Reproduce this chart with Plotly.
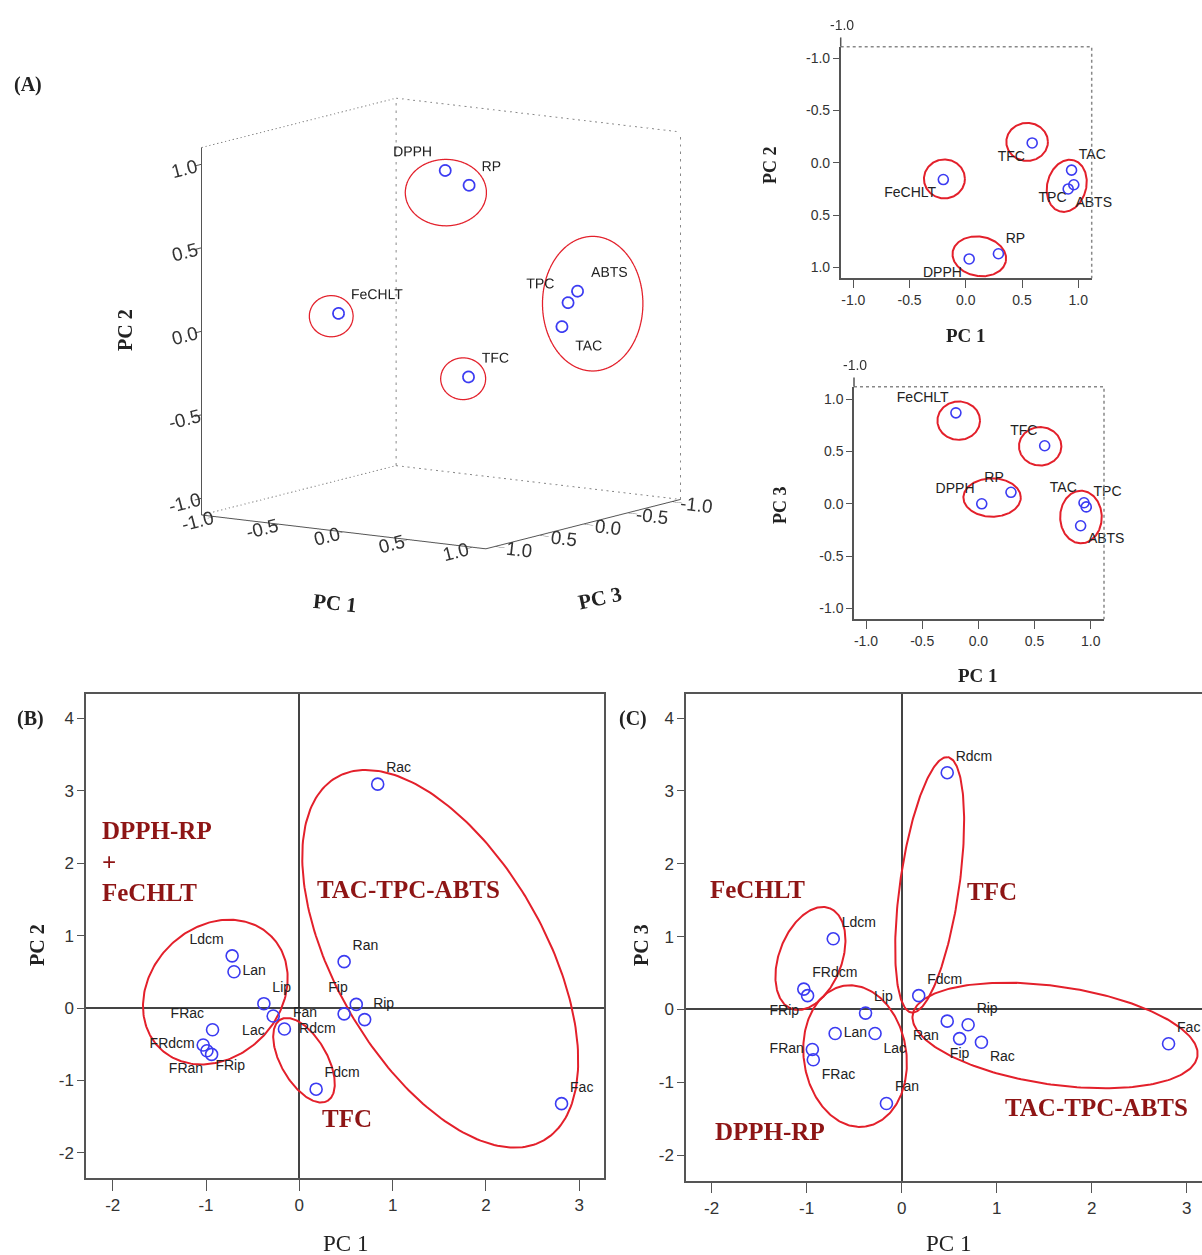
import numpy as np
import plotly.graph_objects as go

# ---------------- data ----------------
variables = ["DPPH", "RP", "FeCHLT", "TFC", "TPC", "ABTS", "TAC"]
load_pc1 = [0.03, 0.29, -0.20, 0.59, 0.96, 0.91, 0.94]
load_pc2 = [0.92, 0.87, 0.16, -0.19, 0.21, 0.25, 0.07]
load_pc3 = [0.00, 0.11, 0.87, 0.555, -0.03, -0.21, 0.01]

samples = ["Ldcm", "Lan", "Lip", "Lac", "FRdcm", "FRan", "FRip", "FRac",
           "Fdcm", "Fan", "Fip", "Fac", "Rdcm", "Ran", "Rip", "Rac"]
score_pc1 = [-0.72, -0.70, -0.38, -0.28, -1.03, -0.94, -0.99, -0.93,
             0.18, -0.16, 0.61, 2.81, 0.48, 0.48, 0.70, 0.84]
score_pc2 = [0.72, 0.50, 0.06, -0.11, -0.51, -0.64, -0.59, -0.30,
             -1.12, -0.29, 0.05, -1.32, -0.08, 0.64, -0.16, 3.09]
score_pc3 = [0.97, -0.33, -0.05, -0.33, 0.28, -0.55, 0.19, -0.69,
             0.19, -1.29, -0.40, -0.47, 3.25, -0.16, -0.21, -0.45]

loading_ticks = [-1.0, -0.5, 0.0, 0.5, 1.0]
loading_ticktext = ["-1.0", "-0.5", "0.0", "0.5", "1.0"]
score_xticks = [-2, -1, 0, 1, 2, 3]
score_xticktext = ["-2", "-1", "0", "1", "2", "3"]
score_yticks = [-2, -1, 0, 1, 2, 3, 4]
score_yticktext = ["-2", "-1", "0", "1", "2", "3", "4"]

# ---------------- styles / layout geometry ----------------
W, H = 1202, 1255
BLUE = "#3b3bf2"
RED = "#e3202b"
DARKRED = "#8e1515"
AXC = "#555555"
SANS = "Liberation Sans, Arial, sans-serif"
SERIF = "Liberation Serif, Times New Roman, serif"
LBL_FONT_SMALL = dict(family=SANS, size=14, color="#222")
LBL_FONT_BIG = dict(family=SANS, size=14, color="#222")


def px(xp, yp):
    return xp / W, 1 - yp / H


# subplot frames in pixels + axis ranges
frames = {
    "a12": dict(x0=840.7, x1=1091.7, y0=46.7, y1=278.3, xr=[-1.112, 1.119], yr=[1.105, -1.111]),
    "a13": dict(x0=854, x1=1104, y0=386.7, y1=619.3, xr=[-1.107, 1.118], yr=[-1.105, 1.12]),
    "b": dict(x0=86.1, x1=604, y0=694.3, y1=1178.3, xr=[-2.285, 3.265], yr=[-2.35, 4.33]),
    "c": dict(x0=686, x1=1202, y0=694, y1=1180.7, xr=[-2.27, 3.162], yr=[-2.35, 4.33]),
}
axis_ids = {"a12": ("x", "y"), "a13": ("x2", "y2"), "b": ("x3", "y3"), "c": ("x4", "y4")}


def ellipse_xy(key, cx, cy, A, B, ang):
    f = frames[key]
    kx = (f["x1"] - f["x0"]) / (f["xr"][1] - f["xr"][0])
    ky = (f["y1"] - f["y0"]) / (f["yr"][1] - f["yr"][0])  # negative if reversed
    t = np.linspace(0, 2 * np.pi, 240)
    p = np.radians(ang)
    ex = A * np.cos(t) * np.cos(p) - B * np.sin(t) * np.sin(p)
    ey = A * np.cos(t) * np.sin(p) + B * np.sin(t) * np.cos(p)
    return cx + ex / kx, cy + ey / ky


# group ellipses: (center x, center y in data units, semi-axes px, angle deg)
ellipses = {
    "a12": [(0.545, -0.20, 20.8, 19.0, 0), (-0.19, 0.154, 20.5, 19.5, 0),
            (0.897, 0.22, 26.5, 19.5, 75), (0.12, 0.895, 27.0, 19.7, -10)],
    "a13": [(-0.175, 0.795, 21.3, 19.2, 0), (0.55, 0.55, 21.2, 19.2, 0),
            (0.122, 0.06, 28.7, 19.2, 0), (0.913, -0.127, 26.3, 20.8, 90)],
    "b": [(-0.90, 0.22, 79, 65, 45), (0.05, -0.72, 47, 23, -60), (1.51, 0.68, 209, 105, -60.3)],
    "c": [(-0.96, 0.70, 53.8, 31.4, 69.2), (0.295, 1.71, 129, 29.6, 81.9),
          (-0.49, -0.64, 71.2, 51.3, -81.5), (1.615, -0.357, 143.9, 49.1, -8.25)],
}

pos_a12 = {"DPPH": "bottom left", "RP": "top right", "FeCHLT": "bottom left", "TFC": "bottom left",
           "TPC": "bottom left", "ABTS": "bottom right", "TAC": "top right"}
pos_a13 = {"DPPH": "top left", "RP": "top left", "FeCHLT": "top left", "TFC": "top left",
           "TPC": "top right", "ABTS": "bottom right", "TAC": "top left"}
pos_3d = {"DPPH": "top left", "RP": "top right", "FeCHLT": "top right", "TFC": "top right",
          "TPC": "top left", "ABTS": "top right", "TAC": "bottom right"}
pos_b = {"Ldcm": "top left", "Lan": "middle right", "Lip": "top right", "Lac": "bottom left",
         "FRdcm": "middle left", "FRan": "bottom left", "FRip": "bottom right", "FRac": "top left",
         "Fdcm": "top right", "Fan": "top right", "Fip": "top left", "Fac": "top right",
         "Rdcm": "bottom left", "Ran": "top right", "Rip": "top right", "Rac": "top right"}
pos_c = {"Ldcm": "top right", "Lan": "middle right", "Lip": "top right", "Lac": "bottom right",
         "FRdcm": "top right", "FRan": "middle left", "FRip": "bottom left", "FRac": "bottom right",
         "Fdcm": "top right", "Fan": "top right", "Fip": "bottom center", "Fac": "top right",
         "Rdcm": "top right", "Ran": "bottom left", "Rip": "top right", "Rac": "bottom right"}

fig = go.Figure()

# ---------------- panel A : 3-D loading plot ----------------
th, el, az = np.radians(34.4), np.radians(10.0), 1.083
eye_dir = np.array([np.cos(th) * np.cos(el), np.sin(th) * np.cos(el), np.sin(el)])
R_vec = np.array([-np.sin(th), np.cos(th), 0.0])
U_vec = np.array([-np.cos(th) * np.sin(el), -np.sin(th) * np.sin(el), np.cos(el)])
PX3 = 157.5
L = 1.1
ZOOM3 = 1.162

# scene x = PC3, y = PC1, z = PC2
fig.add_trace(go.Scatter3d(
    x=load_pc3, y=load_pc1, z=load_pc2, mode="markers+text", text=variables,
    textposition=[pos_3d[v] for v in variables],
    marker=dict(symbol="circle-open", size=7, color=BLUE, line=dict(width=1.5, color=BLUE)),
    textfont=dict(family=SANS, size=14, color="#222"),
    showlegend=False, hoverinfo="skip", scene="scene"))

# dashed back-wall edges of the SPSS box
edges = [
    [(-L, -L, -L), (-L, -L, L)],   # back-left vertical  (PC3, PC1, PC2)
    [(-L, L, -L), (-L, L, L)],     # back-right vertical
    [(L, -L, L), (-L, -L, L)],     # top-left
    [(-L, -L, L), (-L, L, L)],     # top-back
    [(L, -L, -L), (-L, -L, -L)],   # floor-left
    [(-L, -L, -L), (-L, L, -L)],   # floor-back
]
for a, b in edges:
    fig.add_trace(go.Scatter3d(x=[a[0], b[0]], y=[a[1], b[1]], z=[a[2], b[2]], mode="lines",
                               line=dict(color="#888", width=2, dash="dash"),
                               showlegend=False, hoverinfo="skip", scene="scene"))

groups3d = [(["DPPH", "RP"], -11, -15, 40.8, 33.4),
            (["FeCHLT"], -7, -3, 22, 20.7),
            (["TFC"], -5, -2, 22.6, 21),
            (["TPC", "ABTS", "TAC"], 24, 3, 50.5, 67.7)]
for members, dx, dy, A, B in groups3d:
    idx = [variables.index(m) for m in members]
    c = np.array([np.mean([load_pc3[i] for i in idx]), np.mean([load_pc1[i] for i in idx]),
                  az * np.mean([load_pc2[i] for i in idx])])
    c = c - np.dot(c, eye_dir) * eye_dir          # slide to the mid plane (same screen spot)
    t = np.linspace(0, 2 * np.pi, 120)
    off = (dx * R_vec[:, None] + dy * U_vec[:, None]
           + A * np.cos(t)[None, :] * R_vec[:, None] + B * np.sin(t)[None, :] * U_vec[:, None]) / PX3
    pts = c[:, None] + off
    pts[2] /= az
    fig.add_trace(go.Scatter3d(x=pts[0], y=pts[1], z=pts[2], mode="lines",
                               line=dict(color=RED, width=2.5), showlegend=False,
                               hoverinfo="skip", scene="scene"))

ax3 = dict(range=[-L, L], autorange=False, tickvals=loading_ticks, ticktext=loading_ticktext,
           showgrid=False, zeroline=False, showbackground=False, showline=True, linecolor=AXC,
           linewidth=2, ticks="outside", ticklen=12, tickcolor=AXC, tickwidth=2, showspikes=False,
           title=dict(text=""), tickfont=dict(family=SANS, size=15, color="#333"))

r_eye = 1.717
scene = dict(
    domain=dict(x=[140 / W, 742 / W], y=[1 - 620 / H, 1 - 27 / H]),
    xaxis=dict(ax3), yaxis=dict(ax3), zaxis=dict(ax3, ticklen=8),
    aspectmode="manual", aspectratio=dict(x=ZOOM3, y=ZOOM3, z=ZOOM3 * az),
    camera=dict(eye=dict(x=r_eye * eye_dir[0], y=r_eye * eye_dir[1], z=r_eye * eye_dir[2]),
                up=dict(x=0, y=0, z=1), center=dict(x=0, y=0, z=0),
                projection=dict(type="orthographic")),
    bgcolor="white",
)

# ---------------- 2-D panels ----------------
def add_points(key, xs, ys, names, posmap, size, font):
    xa, ya = axis_ids[key]
    fig.add_trace(go.Scatter(
        x=xs, y=ys, mode="markers+text", text=names, textposition=[posmap[n] for n in names],
        marker=dict(symbol="circle-open", size=size, color=BLUE, line=dict(width=1.6, color=BLUE)),
        textfont=font, cliponaxis=False, showlegend=False, hoverinfo="skip",
        xaxis=xa, yaxis=ya))


def add_ellipses(key):
    xa, ya = axis_ids[key]
    for (cx, cy, A, B, ang) in ellipses[key]:
        ex, ey = ellipse_xy(key, cx, cy, A, B, ang)
        fig.add_trace(go.Scatter(x=ex, y=ey, mode="lines", line=dict(color=RED, width=2),
                                 showlegend=False, hoverinfo="skip", cliponaxis=False,
                                 xaxis=xa, yaxis=ya))


add_ellipses("a12")
add_points("a12", load_pc1, load_pc2, variables, pos_a12, 10, LBL_FONT_SMALL)
add_ellipses("a13")
add_points("a13", load_pc1, load_pc3, variables, pos_a13, 10, LBL_FONT_SMALL)
add_ellipses("b")
add_points("b", score_pc1, score_pc2, samples, pos_b, 12, LBL_FONT_BIG)
add_ellipses("c")
add_points("c", score_pc1, score_pc3, samples, pos_c, 12, LBL_FONT_BIG)

layout = dict(width=W, height=H, margin=dict(l=0, r=0, t=0, b=0),
              paper_bgcolor="white", plot_bgcolor="white", scene=scene, showlegend=False)

small_tick = dict(family=SANS, size=14, color="#333")
big_tick = dict(family="Liberation Sans Narrow, Liberation Sans, Arial", size=17, color="#333")

for key, (xa, ya) in axis_ids.items():
    f = frames[key]
    xn = "xaxis" + xa[1:]
    yn = "yaxis" + ya[1:]
    small = key.startswith("a")
    common = dict(showgrid=False, showline=True, linecolor=AXC, linewidth=1.5, ticks="outside",
                  tickcolor=AXC, fixedrange=True)
    if small:
        layout[xn] = dict(common, domain=[f["x0"] / W, f["x1"] / W], range=f["xr"], anchor=ya,
                          tickvals=loading_ticks, ticktext=loading_ticktext, ticklen=8,
                          zeroline=False, tickfont=small_tick, mirror=False)
        layout[yn] = dict(common, domain=[1 - f["y1"] / H, 1 - f["y0"] / H], range=f["yr"], anchor=xa,
                          tickvals=loading_ticks, ticktext=loading_ticktext, ticklen=6,
                          zeroline=False, tickfont=small_tick, mirror=False)
    else:
        layout[xn] = dict(common, domain=[f["x0"] / W, f["x1"] / W], range=f["xr"], anchor=ya,
                          tickvals=score_xticks, ticktext=score_xticktext, ticklen=11,
                          zeroline=True, zerolinecolor="#444",
                          zerolinewidth=1.5, tickfont=big_tick, mirror=True)
        layout[yn] = dict(common, domain=[1 - f["y1"] / H, 1 - f["y0"] / H], range=f["yr"], anchor=xa,
                          tickvals=score_yticks, ticktext=score_yticktext, ticklen=7,
                          zeroline=True, zerolinecolor="#444",
                          zerolinewidth=1.5, tickfont=big_tick, mirror=(key == "b"))

# dotted top/right borders + stray axis extension of small SPSS plots
shapes = []
for key in ("a12", "a13"):
    xa, ya = axis_ids[key]
    shapes.append(dict(type="path", xref=xa + " domain", yref=ya + " domain",
                       path="M 0 1 L 1 1 L 1 0", line=dict(color="#888", width=1.5, dash="dot")))
    shapes.append(dict(type="line", xref=xa + " domain", yref=ya + " domain",
                       x0=0, x1=0, y0=1, y1=1.04, line=dict(color=AXC, width=1.5)))
layout["shapes"] = shapes

ann = []


def text_px(t, xp, yp, size, bold=True, family=SERIF, angle=0, color="#222", anchor="center"):
    x, y = px(xp, yp)
    ann.append(dict(text=("<b>%s</b>" % t) if bold else t, x=x, y=y, xref="paper", yref="paper",
                    showarrow=False, textangle=angle, xanchor=anchor, yanchor="middle",
                    font=dict(family=family, size=size, color=color)))


# panel labels and axis titles
text_px("(A)", 28, 85, 20)
text_px("PC 2", 125, 330, 20, angle=-90)
text_px("PC 1", 335, 603, 21, angle=6)
text_px("PC 3", 600, 598, 21, angle=-12)
text_px("PC 2", 770, 165, 18, angle=-90)
text_px("PC 1", 966, 335, 19)
text_px("PC 3", 780, 505, 18, angle=-90)
text_px("PC 1", 978, 675, 19)
text_px("-1.0", 842, 25, 14, bold=False, family=SANS, color="#333")
text_px("-1.0", 855, 365, 14, bold=False, family=SANS, color="#333")
text_px("(B)", 30, 718, 20)
text_px("PC 2", 37, 945, 20, angle=-90)
text_px("PC 1", 345, 1243, 23, bold=False)
text_px("(C)", 633, 718, 20)
text_px("PC 3", 641, 945, 20, angle=-90)
text_px("PC 1", 948, 1243, 23, bold=False)


def group_label(key, t, x, y, size=25):
    xa, ya = axis_ids[key]
    ann.append(dict(text="<b>%s</b>" % t, x=x, y=y, xref=xa, yref=ya, showarrow=False,
                    xanchor="left", yanchor="middle",
                    font=dict(family=SERIF, size=size, color=DARKRED)))


group_label("b", "DPPH-RP", -2.135, 2.455)
group_label("b", "+", -2.135, 2.01)
group_label("b", "FeCHLT", -2.135, 1.59)
group_label("b", "TAC-TPC-ABTS", 0.17, 1.63)
group_label("b", "TFC", 0.22, -1.52)
group_label("c", "FeCHLT", -2.04, 1.64)
group_label("c", "TFC", 0.67, 1.62)
group_label("c", "TAC-TPC-ABTS", 1.07, -1.35)
group_label("c", "DPPH-RP", -1.985, -1.68)

layout["annotations"] = ann
fig.update_layout(layout)
fig.write_html("out.html", config={"displayModeBar": False},
               post_script="document.body.style.margin='0';document.body.style.overflow='hidden';")
